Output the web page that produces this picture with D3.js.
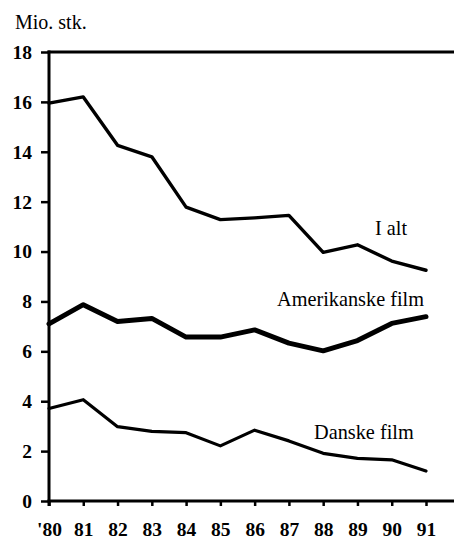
<!DOCTYPE html>
<html><head><meta charset="utf-8">
<script src="https://cdn.jsdelivr.net/npm/d3@7"></script>
<style>
html,body{margin:0;padding:0;background:#fff;}
svg text{font-family:"Liberation Serif","Times New Roman",serif !important;fill:#000;}
svg .tick text{font-weight:bold;}
</style></head>
<body><svg id="c" width="454" height="539"></svg>
<script>
const years = [80,81,82,83,84,85,86,87,88,89,90,91];
const xTickLabels = ["'80","81","82","83","84","85","86","87","88","89","90","91"];
const yTicks = [0,2,4,6,8,10,12,14,16,18];
const iAlt = [15.95,16.2,14.26,13.8,11.78,11.28,11.35,11.45,9.97,10.27,9.62,9.25];
const amerikanske = [7.1,7.87,7.2,7.32,6.57,6.57,6.86,6.33,6.02,6.43,7.12,7.39];
const danske = [3.71,4.06,2.98,2.79,2.74,2.21,2.84,2.41,1.91,1.71,1.65,1.2];
const seriesNames = ["I alt","Amerikanske film","Danske film"];

const svg = d3.select("#c");
const x = d3.scaleLinear().domain([80,91]).range([49,426]);
const y = d3.scaleLinear().domain([0,18]).range([501,52]);

// top frame line
svg.append("line").attr("x1",47.5).attr("x2",454).attr("y1",y(18)).attr("y2",y(18))
  .attr("stroke","#000").attr("stroke-width",3);

// y axis
const ya = svg.append("g").attr("transform","translate(49,0)")
  .call(d3.axisLeft(y).tickValues(yTicks).tickSize(8).tickPadding(9));
ya.select(".domain").remove();
ya.selectAll(".tick line").attr("stroke","#000").attr("stroke-width",2.5);
ya.selectAll(".tick text").attr("font-size",19.5).attr("dy","0.33em");
svg.append("line").attr("x1",49).attr("x2",49).attr("y1",50.5).attr("y2",506)
  .attr("stroke","#000").attr("stroke-width",3);

// x axis
const xa = svg.append("g").attr("transform","translate(0,501)")
  .call(d3.axisBottom(x).tickValues(years).tickSize(5)
    .tickFormat((d,i)=>xTickLabels[i]));
xa.select(".domain").remove();
xa.selectAll(".tick line").attr("stroke","#000").attr("stroke-width",2.5);
xa.selectAll(".tick text").attr("font-size",19.5).attr("y",35).attr("dy",null);
svg.append("line").attr("x1",47.5).attr("x2",454).attr("y1",501).attr("y2",501)
  .attr("stroke","#000").attr("stroke-width",3);

// y unit label
svg.append("text").attr("x",15).attr("y",29).attr("font-size",20).text("Mio. stk.");

const line = d3.line().x((d,i)=>x(years[i])).y(d=>y(d));
const data = [iAlt, amerikanske, danske];
const widths = [3.4,5,3.2];
data.forEach((s,k)=>{
  svg.append("path").datum(s).attr("d",line).attr("fill","none")
    .attr("stroke","#000").attr("stroke-width",widths[k])
    .attr("stroke-linejoin","round").attr("stroke-linecap","round");
});

// series labels
const labelPos = [[375,235],[277,306],[314,439]];
seriesNames.forEach((n,i)=>{
  svg.append("text").attr("x",labelPos[i][0]).attr("y",labelPos[i][1])
    .attr("font-size",20.3).text(n);
});
</script></body></html>
